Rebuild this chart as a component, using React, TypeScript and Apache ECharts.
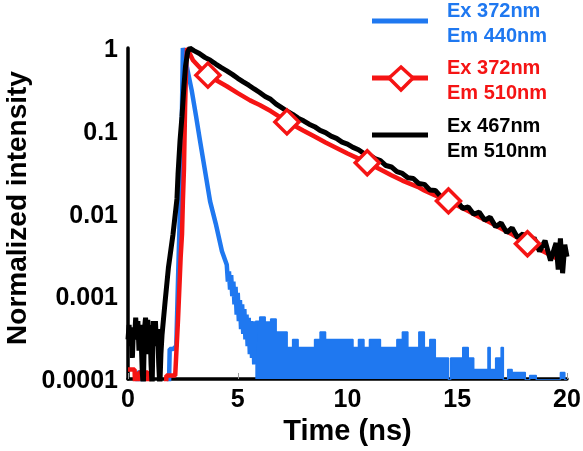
import React, { useEffect, useRef } from "react";
import * as echarts from "echarts";

// ---- data (time in ns, normalized intensity) ----
const blueTime = [0, 0.4, 0.45, 0.65, 0.7, 1.85, 1.9, 2.05, 2.2, 2.28, 2.38, 2.45, 2.5, 2.7, 2.9, 3.1, 3.28, 3.5, 3.74, 4.0, 4.28, 4.5, 4.55, 4.6, 4.65, 4.7, 4.75, 4.8, 4.85, 4.9, 4.95, 5.0, 5.05, 5.1, 5.15, 5.2, 5.25, 5.3, 5.35, 5.4, 5.45, 5.5, 5.55, 5.6, 5.65, 5.7, 5.75, 5.8];
const blueValue = [0.00005, 0.00005, 0.00012, 0.00012, 0.00005, 0.00005, 0.00023, 0.00023, 0.00025, 0.0016, 0.015, 0.12, 1.0, 0.56, 0.31, 0.15, 0.076, 0.034, 0.014, 0.0075, 0.0035, 0.0024, 0.0015, 0.002, 0.0012, 0.0018, 0.001, 0.0015, 0.0008, 0.0013, 0.0006, 0.0011, 0.0005, 0.0009, 0.0004, 0.0008, 0.00035, 0.0007, 0.0003, 0.0006, 0.00025, 0.00055, 0.0002, 0.0005, 0.00018, 0.00045, 0.00015, 0.0005];

const blueTailTime = [5.8, 6.0, 6.25, 6.5, 6.75, 7.0, 7.25, 7.5, 7.75, 8.0, 8.25, 8.5, 8.75, 9.0, 9.25, 9.5, 9.75, 10.0, 10.25, 10.5, 10.75, 11.0, 11.25, 11.5, 11.75, 12.0, 12.25, 12.5, 12.75, 13.0, 13.25, 13.5, 13.75, 14.0, 14.25, 14.5, 14.6, 14.7, 15.0, 15.25, 15.5, 15.75, 16.0, 16.25, 16.4, 16.5, 16.75, 17.0, 17.1, 17.3, 17.5, 17.75, 18.0, 18.1, 18.3, 18.6, 19.7, 19.9, 20.0];
const blueTailValue = [0.0005, 0.00056, 0.00049, 0.00053, 0.00037, 0.00037, 0.00024, 0.0003, 0.00024, 0.00024, 0.00024, 0.0003, 0.00037, 0.0003, 0.0003, 0.0003, 0.0003, 0.0003, 0.00024, 0.0003, 0.00024, 0.0003, 0.0003, 0.00024, 0.00024, 0.00024, 0.0003, 0.00037, 0.00024, 0.00024, 0.00037, 0.00024, 0.0003, 0.00018, 0.00018, 0.00018, 0.00005, 0.00018, 0.00018, 0.00024, 0.00018, 0.00013, 0.00013, 0.00013, 0.00024, 0.00013, 0.00018, 0.00024, 0.00005, 0.00013, 0.00012, 0.00012, 0.00012, 0.00005, 0.00011, 0.00005, 0.00012, 0.00005, 0.00005];

const redTime = [0, 0.3, 0.35, 0.5, 0.9, 0.95, 1.7, 1.75, 2.15, 2.28, 2.4, 2.46, 2.5, 2.55, 2.6, 2.65, 2.69, 2.96, 3.3, 3.64, 4.0, 4.5, 5.0, 5.56, 6.0, 6.5, 7.0, 7.24, 7.5, 8.0, 8.5, 9.0, 9.5, 10.0, 10.5, 10.9, 11.5, 12.0, 12.5, 13.2, 13.5, 14.0, 14.6, 15.0, 15.5, 16.0, 16.5, 17.0, 17.5, 18.2, 18.5, 19.0, 19.5];
const redValue = [0.00013, 0.00013, 0.00005, 0.00012, 0.00012, 0.00005, 0.00005, 0.00011, 0.00011, 0.00053, 0.003, 0.0056, 0.014, 0.035, 0.19, 0.6, 1.0, 0.71, 0.57, 0.47, 0.41, 0.345, 0.285, 0.233, 0.205, 0.173, 0.142, 0.128, 0.118, 0.1, 0.085, 0.072, 0.062, 0.053, 0.046, 0.041, 0.034, 0.029, 0.025, 0.021, 0.019, 0.0165, 0.0142, 0.0125, 0.0107, 0.0091, 0.0078, 0.0066, 0.0056, 0.0043, 0.004, 0.0034, 0.0029];
const redMarkerTime = [3.64, 7.24, 10.9, 14.6, 18.2];

const blackTime = [0, 0.05, 0.1, 0.15, 0.2, 0.25, 0.3, 0.35, 0.4, 0.45, 0.5, 0.55, 0.6, 0.65, 0.7, 0.75, 0.8, 0.85, 0.9, 0.95, 1.0, 1.05, 1.1, 1.15, 1.2, 1.25, 1.3, 1.35, 1.4, 1.45, 1.5, 1.55, 1.69, 1.84, 2.05, 2.23, 2.28, 2.37, 2.46, 2.55, 2.62, 2.72, 2.82, 3.0, 3.25, 3.5, 3.75, 4.0, 4.25, 4.5, 4.75, 5.0, 5.25, 5.5, 5.75, 6.0, 6.25, 6.5, 6.75, 7.0, 7.25, 7.5, 7.75, 8.0, 8.25, 8.5, 8.75, 9.0, 9.25, 9.5, 9.75, 10.0, 10.25, 10.5, 10.75, 11.0, 11.25, 11.5, 11.75, 12.0, 12.25, 12.5, 12.75, 13.0, 13.25, 13.5, 13.75, 14.0, 14.25, 14.5, 14.75, 15.0, 15.25, 15.5, 15.75, 16.0, 16.25, 16.5, 16.75, 17.0, 17.25, 17.5, 17.75, 18.0, 18.25, 18.5, 18.75, 19.0, 19.25, 19.5, 19.6, 19.7, 19.8, 19.9, 20.0];
const blackValue = [0.0003, 0.00045, 0.00025, 0.0004, 0.00018, 0.00042, 0.0003, 0.00055, 0.00035, 0.0005, 0.00022, 0.00045, 0.0003, 0.00012, 0.00008, 0.0004, 0.00055, 0.0003, 0.00052, 0.0002, 0.00045, 0.00015, 0.00008, 0.0005, 0.00035, 0.0005, 0.00025, 0.0004, 0.00015, 0.00008, 0.0002, 0.00034, 0.00086, 0.0022, 0.0056, 0.015, 0.03, 0.076, 0.15, 0.35, 0.6, 0.9, 1.0, 0.93, 0.86, 0.77, 0.71, 0.64, 0.58, 0.53, 0.48, 0.43, 0.39, 0.355, 0.32, 0.29, 0.26, 0.24, 0.21, 0.19, 0.172, 0.158, 0.142, 0.132, 0.12, 0.112, 0.101, 0.095, 0.086, 0.081, 0.073, 0.069, 0.063, 0.059, 0.053, 0.051, 0.046, 0.0435, 0.038, 0.0365, 0.032, 0.0305, 0.027, 0.0265, 0.023, 0.0225, 0.0192, 0.019, 0.016, 0.0165, 0.0135, 0.014, 0.0115, 0.012, 0.0098, 0.0104, 0.0083, 0.009, 0.0069, 0.0077, 0.0059, 0.0067, 0.0051, 0.0057, 0.0042, 0.0051, 0.0035, 0.0047, 0.0027, 0.0044, 0.0021, 0.005, 0.0019, 0.0042, 0.003];

const yTickLabels = ["0.0001", "0.001", "0.01", "0.1", "1"];
const xTickLabels = ["0", "5", "10", "15", "20"];
const legendNames = [
  ["Ex 372nm", "Em 440nm"],
  ["Ex 372nm", "Em 510nm"],
  ["Ex 467nm", "Em 510nm"],
];

const BLUE = "#1f78f0";
const RED = "#f51414";
const BLACK = "#000000";
const FONT = '"Liberation Sans", Arial, sans-serif';

const pairs = (t: number[], v: number[]) => t.map((x, i) => [x, v[i]]);

export default function App() {
  const ref = useRef<HTMLDivElement>(null);
  useEffect(() => {
    if (!ref.current) return;
    const chart = echarts.init(ref.current, null, { renderer: "svg" });
    const markerData = redMarkerTime.map((t) => [t, redValue[redTime.indexOf(t)]]);
    const legendColors = [BLUE, RED, BLACK];
    const legendY = [21, 78, 135];
    const textY = [[10, 35], [67, 92], [125, 150]];
    const graphics: any[] = [];
    legendColors.forEach((c, i) => {
      graphics.push({
        type: "line",
        shape: { x1: 372, y1: legendY[i], x2: 428, y2: legendY[i] },
        style: { stroke: c, lineWidth: 5 },
      });
      legendNames[i].forEach((s, j) => {
        graphics.push({
          type: "text",
          x: 447,
          y: textY[i][j],
          style: { text: s, fill: c, font: `bold 20px ${FONT}`, verticalAlign: "middle", align: "left" },
        });
      });
    });
    graphics.push({
      type: "polygon",
      shape: { points: [[401, 67], [413, 78], [401, 90], [389, 78]] },
      style: { fill: "#fff", stroke: RED, lineWidth: 3.5 },
    });

    chart.setOption({
      animation: false,
      grid: { left: 128, right: 16, top: 48, bottom: 72, containLabel: false, outerBoundsMode: "none" },
      xAxis: {
        type: "value",
        min: 0,
        max: 20,
        interval: 5,
        name: "Time (ns)",
        nameLocation: "middle",
        nameGap: 36,
        nameTextStyle: { fontFamily: FONT, fontWeight: "bold", fontSize: 29, color: "#000" },
        axisLine: { lineStyle: { color: "#000", width: 3.5 } },
        axisTick: { show: true, inside: true, length: 6, lineStyle: { color: "#999", width: 1 } },
        axisLabel: {
          fontFamily: FONT,
          fontWeight: "bold",
          fontSize: 25,
          color: "#000",
          margin: 6,
          formatter: (v: number) => xTickLabels.find((l) => Number(l) === v) ?? "",
        },
        splitLine: { show: false },
      },
      yAxis: {
        type: "log",
        logBase: 10,
        min: 0.0001,
        max: 1,
        name: "Normalized intensity",
        nameLocation: "middle",
        nameGap: 97,
        nameTextStyle: {
          fontFamily: FONT,
          fontWeight: "bold",
          fontSize: 28,
          lineHeight: 28,
          color: "#000",
          padding: [0, 0, 0, 11],
        },
        axisLine: { show: true, lineStyle: { color: "#000", width: 3.5 } },
        axisTick: { show: false },
        axisLabel: {
          fontFamily: FONT,
          fontWeight: "bold",
          fontSize: 25,
          color: "#000",
          margin: 10,
          formatter: (v: number) =>
            yTickLabels.find((l) => Math.abs(Math.log10(Number(l)) - Math.log10(v)) < 1e-6) ?? "",
        },
        splitLine: { show: false },
      },
      series: [
        {
          name: "Ex 372nm Em 440nm",
          type: "line",
          data: pairs(blueTime, blueValue),
          symbol: "none",
          lineStyle: { color: BLUE, width: 4.5 },
          z: 2,
          clip: true,
        },
        {
          name: "Ex 372nm Em 440nm tail",
          type: "line",
          data: pairs(blueTailTime, blueTailValue),
          symbol: "none",
          step: "end",
          lineStyle: { color: BLUE, width: 1.5 },
          areaStyle: { color: BLUE, opacity: 1, origin: "start" },
          z: 2,
          clip: true,
        },
        {
          name: "Ex 372nm Em 510nm",
          type: "line",
          data: pairs(redTime, redValue),
          symbol: "none",
          lineStyle: { color: RED, width: 4.5 },
          z: 3,
          clip: true,
        },
        {
          name: "Ex 467nm Em 510nm",
          type: "line",
          data: pairs(blackTime, blackValue),
          symbol: "none",
          lineStyle: { color: BLACK, width: 5 },
          z: 4,
          clip: true,
        },
        {
          name: "Ex 372nm Em 510nm markers",
          type: "scatter",
          data: markerData,
          symbol: "diamond",
          symbolSize: 24,
          itemStyle: { color: "#fff", borderColor: RED, borderWidth: 3.5, opacity: 1 },
          z: 5,
        },
      ],
      graphic: graphics,
    });
    return () => chart.dispose();
  }, []);
  return <div ref={ref} style={{ position: "fixed", left: 0, top: 0, width: 583, height: 451 }} />;
}
